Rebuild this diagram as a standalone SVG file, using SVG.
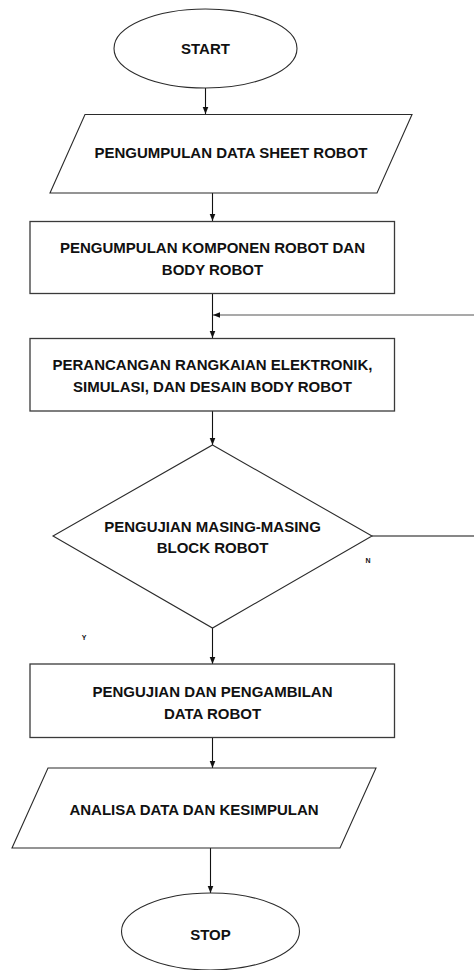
<svg xmlns="http://www.w3.org/2000/svg" width="474" height="970" viewBox="0 0 474 970">
<style>
.shape{fill:#ffffff;stroke:#2b2b2b;stroke-width:1.1}
.box{fill:#ffffff;stroke:#3a3a3a;stroke-width:1.3}
.t{font-family:"Liberation Sans",Arial,sans-serif;font-weight:bold;font-size:15px;fill:#111;text-anchor:middle}
.s{font-family:"Liberation Sans",Arial,sans-serif;font-weight:bold;font-size:7px;fill:#111;text-anchor:middle}
.c{fill:none;stroke:#111;stroke-width:1.1}
.g{fill:none;stroke:#555;stroke-width:1.1}
</style>
<defs>
<marker id="ah" viewBox="0 0 10 10" refX="10" refY="5" markerWidth="7" markerHeight="7" markerUnits="userSpaceOnUse" orient="auto">
<path d="M0,1 L10,5 L0,9 z" fill="#111"/>
</marker>
</defs>
<rect width="474" height="970" fill="#ffffff"/>
<g id="connectors">
<line class="c" x1="205.5" y1="88" x2="205.5" y2="114" marker-end="url(#ah)"/>
<line class="c" x1="212.5" y1="193" x2="212.5" y2="221" marker-end="url(#ah)"/>
<line class="c" x1="212.5" y1="293" x2="212.5" y2="338" marker-end="url(#ah)"/>
<line class="g" x1="474" y1="315" x2="213" y2="315" marker-end="url(#ah)"/>
<line class="c" x1="212.5" y1="411" x2="212.5" y2="445" marker-end="url(#ah)"/>
<line class="c" x1="372" y1="536" x2="474" y2="536"/>
<line class="c" x1="212.5" y1="628" x2="212.5" y2="664" marker-end="url(#ah)"/>
<line class="c" x1="212.5" y1="737" x2="212.5" y2="768" marker-end="url(#ah)"/>
<line class="c" x1="210.5" y1="848" x2="210.5" y2="893" marker-end="url(#ah)"/>
</g>
<g id="start">
<ellipse class="shape" cx="205.5" cy="48.5" rx="91.5" ry="39.5"/>
<text class="t" x="205.5" y="54">START</text>
</g>
<g id="data-sheet">
<polygon class="shape" points="85,114.5 412,114.5 377,193 50,193"/>
<text class="t" x="231" y="158">PENGUMPULAN DATA SHEET ROBOT</text>
</g>
<g id="komponen">
<rect class="box" x="30" y="221.5" width="364.5" height="72"/>
<text class="t" x="212.5" y="253">PENGUMPULAN KOMPONEN ROBOT DAN</text>
<text class="t" x="212.5" y="275">BODY ROBOT</text>
</g>
<g id="perancangan">
<rect class="box" x="30" y="338.5" width="364.5" height="72.5"/>
<text class="t" x="212.5" y="370">PERANCANGAN RANGKAIAN ELEKTRONIK,</text>
<text class="t" x="212.5" y="392">SIMULASI, DAN DESAIN BODY ROBOT</text>
</g>
<g id="pengujian-block">
<polygon class="shape" points="212.5,445 372,536 212.5,628 53,536"/>
<text class="t" x="212.5" y="532">PENGUJIAN MASING-MASING</text>
<text class="t" x="212.5" y="553">BLOCK ROBOT</text>
</g>
<g id="label-n"><text class="s" x="368" y="563">N</text></g>
<g id="label-y"><text class="s" x="84" y="640">Y</text></g>
<g id="pengujian-data">
<rect class="box" x="30" y="664" width="364.5" height="73.5"/>
<text class="t" x="212.5" y="697">PENGUJIAN DAN PENGAMBILAN</text>
<text class="t" x="212.5" y="719">DATA ROBOT</text>
</g>
<g id="analisa">
<polygon class="shape" points="48,768 376,768 340,848 12,848"/>
<text class="t" x="194" y="815">ANALISA DATA DAN KESIMPULAN</text>
</g>
<g id="stop">
<ellipse class="shape" cx="210.5" cy="931.5" rx="89" ry="38.5"/>
<text class="t" x="210.5" y="940">STOP</text>
</g>
</svg>
